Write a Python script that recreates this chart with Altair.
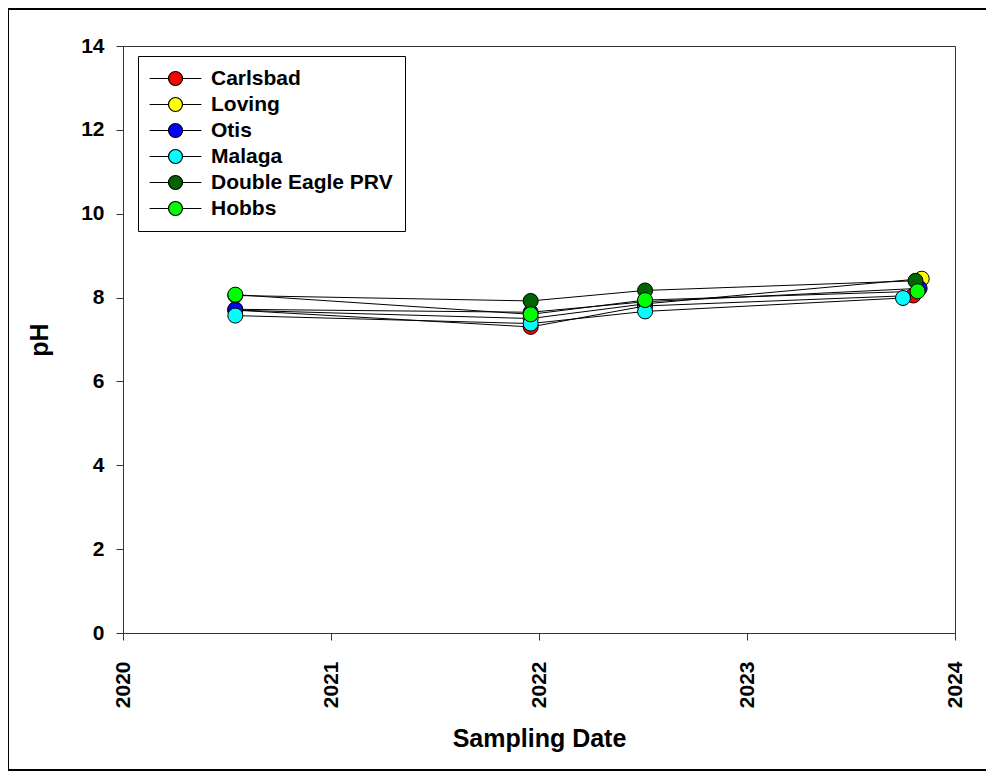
import altair as alt
import pandas as pd

sites = ["Carlsbad", "Loving", "Otis", "Malaga", "Double Eagle PRV", "Hobbs"]
colors = ["#ff0000", "#ffff00", "#0000ff", "#00ffff", "#006400", "#00ff00"]

carlsbad_dates = [2020.54, 2021.96, 2022.51, 2023.80]
carlsbad_ph = [7.70, 7.30, 7.80, 8.05]
loving_dates = [2020.54, 2021.96, 2022.51, 2023.84]
loving_ph = [7.70, 7.50, 7.85, 8.45]
otis_dates = [2020.54, 2021.96, 2022.51, 2023.83]
otis_ph = [7.72, 7.65, 7.90, 8.22]
malaga_dates = [2020.54, 2021.96, 2022.51, 2023.75]
malaga_ph = [7.57, 7.38, 7.67, 7.99]
deagle_dates = [2020.54, 2021.96, 2022.51, 2023.81]
deagle_ph = [8.05, 7.92, 8.17, 8.40]
hobbs_dates = [2020.54, 2021.96, 2022.51, 2023.82]
hobbs_ph = [8.07, 7.60, 7.94, 8.15]

series = [
    ("Carlsbad", carlsbad_dates, carlsbad_ph),
    ("Loving", loving_dates, loving_ph),
    ("Otis", otis_dates, otis_ph),
    ("Malaga", malaga_dates, malaga_ph),
    ("Double Eagle PRV", deagle_dates, deagle_ph),
    ("Hobbs", hobbs_dates, hobbs_ph),
]
rows = []
for i, (name, ds, vs) in enumerate(series):
    for d, v in zip(ds, vs):
        rows.append({"site": name, "date": d, "ph": v, "order": i})
df = pd.DataFrame(rows)

FONT = "Liberation Sans"

x = alt.X("date:Q", scale=alt.Scale(domain=[2020, 2024], nice=False, zero=False),
          axis=alt.Axis(title="Sampling Date", values=[2020, 2021, 2022, 2023, 2024],
                        format="d", labelAngle=-90, tickSize=7, labelPadding=21,
                        titlePadding=19, grid=False))
y = alt.Y("ph:Q", scale=alt.Scale(domain=[0, 14], nice=False),
          axis=alt.Axis(title="pH", values=[0, 2, 4, 6, 8, 10, 12, 14], tickSize=7,
                        labelPadding=12, titlePadding=28, grid=False))

lines = alt.Chart(df).mark_line(color="black", strokeWidth=1).encode(
    x=x, y=y, detail="site:N", order="date:Q")

legend_path = "M-3.7,0H-1M1,0H3.7M1,0A1,1,0,1,1,-1,0A1,1,0,1,1,1,0Z"

points = alt.Chart(df).mark_point(filled=True, size=225, stroke="black",
                                  strokeWidth=1, opacity=1, shape="circle").encode(
    x=x, y=y,
    color=alt.Color("site:N", scale=alt.Scale(domain=sites, range=colors),
                    sort=sites,
                    legend=alt.Legend(title=None, orient="none", legendX=15, legendY=10,
                                      symbolType=legend_path, symbolSize=196,
                                      symbolStrokeColor="black", symbolStrokeWidth=1.2,
                                      symbolOffset=15, labelOffset=25,
                                      padding=12, rowPadding=4,
                                      strokeColor="black", fillColor="white",
                                      labelFont=FONT, labelFontSize=21,
                                      labelFontWeight="bold", labelColor="black",
                                      labelLimit=400)),
    order=alt.Order("order:Q"))

frame = alt.Chart(pd.DataFrame({"a": [0]})).mark_rect(
    fill=None, stroke="black", strokeWidth=2, clip=False).encode(
    x=alt.value(-115), x2=alt.value(900), y=alt.value(-37), y2=alt.value(724))

chart = alt.layer(lines, points, frame).properties(
    width=832, height=587,
    background="white",
    autosize=alt.AutoSizeParams(type="none"),
    padding={"left": 115, "top": 38, "right": 31, "bottom": 140},
).configure_view(stroke="#333333", strokeWidth=1).configure_axis(
    domainColor="#333333", tickColor="#333333", labelFont=FONT, titleFont=FONT,
    labelFontSize=21, labelFontWeight="bold", labelColor="black",
    titleFontSize=25, titleFontWeight="bold", titleColor="black"
)

chart.save("out.html", embed_options={"renderer": "svg", "actions": False})
